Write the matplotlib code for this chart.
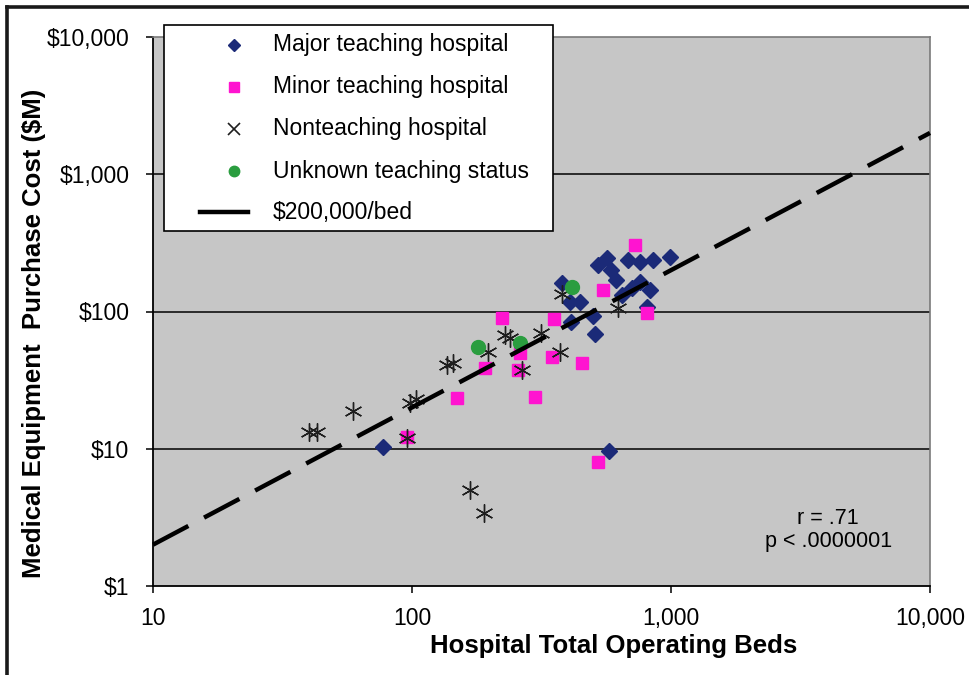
import matplotlib
matplotlib.use('Agg')
import matplotlib.pyplot as plt
from matplotlib.lines import Line2D
from matplotlib.patches import Rectangle
from matplotlib.ticker import FixedLocator, NullLocator

plt.rcParams['font.family'] = ['Liberation Sans', 'DejaVu Sans']

# hospital beds vs. equipment purchase cost ($M), by teaching status
major_beds = [77, 577, 379, 407, 445, 411, 500, 509, 522, 566, 587, 613, 682,
              759, 853, 991, 759, 829, 707, 647, 807]
major_cost = [10.3, 9.6, 161, 117, 117, 84, 93, 68.5, 218, 245, 201, 170, 237,
              230, 237, 250, 164, 144, 148, 132, 108]

minor_beds = [96, 149, 191, 222, 261, 257, 298, 347, 353, 453, 546, 726, 807, 522]
minor_cost = [12.2, 23.4, 38.7, 90, 50, 37.5, 23.8, 46.6, 88, 42, 144, 305, 97.5, 8.0]

non_beds = [40, 43, 59, 98, 104, 96, 136, 144, 196, 228, 239, 266, 315, 373,
            380, 624, 167, 190]
non_cost = [13.2, 13.2, 18.8, 21.5, 23, 12.0, 40.7, 42.2, 50.7, 67.5, 64, 37.5,
            70, 50.7, 134, 106, 5.0, 3.4]

unknown_beds = [180, 261, 415]
unknown_cost = [55, 59, 151]

# reference line: $200,000 per bed, in $M
ref_beds = [10, 10000]
cost_per_bed = 0.2

x_ticks = [10, 100, 1000, 10000]
x_labels = ['10', '100', '1,000', '10,000']
y_ticks = [1, 10, 100, 1000, 10000]
y_labels = ['$1', '$10', '$100', '$1,000', '$10,000']

legend_labels = ['Major teaching hospital', 'Minor teaching hospital',
                 'Nonteaching hospital', 'Unknown teaching status',
                 '$200,000/bed']

NAVY = '#1b2a78'
MAGENTA = '#ff14d0'
GREEN = '#2a9d3f'
STAR = '#1e1e1e'

W, H = 970, 675
fig = plt.figure(figsize=(W / 100, H / 100), dpi=100)


def fx(x):
    return x / W


def fy(y):
    return 1 - y / H


ax = fig.add_axes([fx(153), fy(586), fx(930) - fx(153), fy(37) - fy(586)])
ax.set_facecolor('#c6c6c6')
ax.set_xscale('log')
ax.set_yscale('log')
ax.set_xlim(10, 10000)
ax.set_ylim(1, 10000)

for y in [10, 100, 1000]:
    ax.axhline(y, color='black', lw=1.1, zorder=1)

ax.plot(major_beds, major_cost, ls='none', marker='D', ms=8.5,
        color=NAVY, mec=NAVY, zorder=3)
ax.plot(minor_beds, minor_cost, ls='none', marker='s', ms=8.5,
        color=MAGENTA, mec=MAGENTA, zorder=3)
ax.plot(non_beds, non_cost, ls='none', marker=(6, 2, 0), ms=13,
        mec=STAR, mew=1.0, zorder=4)
ax.plot(unknown_beds, unknown_cost, ls='none', marker='o', ms=10,
        color=GREEN, mec=GREEN, zorder=4)
ax.plot(ref_beds, [b * cost_per_bed for b in ref_beds], color='black',
        lw=3.2, ls=(0, (9, 4)), dash_capstyle='butt', zorder=5, clip_on=False)

ax.xaxis.set_major_locator(FixedLocator(x_ticks))
ax.xaxis.set_minor_locator(NullLocator())
ax.set_xticklabels(x_labels)
ax.yaxis.set_major_locator(FixedLocator(y_ticks))
ax.yaxis.set_minor_locator(NullLocator())
ax.set_yticklabels(y_labels)
ax.tick_params(axis='both', direction='out', length=5, width=1.1,
               color='black', labelsize=16.5)
ax.tick_params(axis='x', pad=10)
ax.tick_params(axis='y', pad=12)

for side in ['left', 'bottom']:
    ax.spines[side].set_color('black')
    ax.spines[side].set_linewidth(1.3)
for side in ['top', 'right']:
    ax.spines[side].set_color('#7a7a7a')
    ax.spines[side].set_linewidth(1.2)

ax.set_xlabel('Hospital Total Operating Beds', fontsize=18.5, fontweight='bold')
ax.xaxis.set_label_coords((614 - 153) / 777, (586 - 634) / 549)
ax.set_ylabel('Medical Equipment  Purchase Cost ($M)', fontsize=18.5,
              fontweight='bold')
ax.yaxis.set_label_coords((46 - 153) / 777, (586 - 333) / 549)

ax.text(0.869, 0.102, 'r = .71\np < .0000001', transform=ax.transAxes,
        ha='center', va='center', multialignment='center', fontsize=15.5,
        linespacing=1.12)

# legend box, drawn by hand so it can sit over the top edge of the plot
fig.add_artist(Rectangle((fx(164), fy(231)), fx(553) - fx(164),
                         fy(25) - fy(231), transform=fig.transFigure,
                         facecolor='white', edgecolor='black', lw=1.2))
rows = [45, 87, 129, 171, 212]
handles = [dict(marker='D', ms=6, color=NAVY, mec=NAVY),
           dict(marker='s', ms=7.5, color=MAGENTA, mec=MAGENTA),
           dict(marker='x', ms=8, color=STAR, mec=STAR, mew=1.2),
           dict(marker='o', ms=7.5, color=GREEN, mec=GREEN)]
for row, style in zip(rows[:4], handles):
    fig.add_artist(Line2D([fx(234)], [fy(row)], ls='none',
                          transform=fig.transFigure, **style))
fig.add_artist(Line2D([fx(200), fx(248)], [fy(rows[4])] * 2, color='black',
                      lw=3.2, transform=fig.transFigure))
for row, label in zip(rows, legend_labels):
    fig.text(fx(273), fy(row), label, fontsize=16.5, va='center', ha='left')

# outer frame edges
fig.add_artist(Line2D([fx(7), fx(7)], [fy(7), 0], color='#1a1a1a', lw=2.6,
                      transform=fig.transFigure))
fig.add_artist(Line2D([fx(7), 1], [fy(7), fy(7)], color='#1a1a1a', lw=2.6,
                      transform=fig.transFigure))

fig.savefig('out.png', dpi=100, facecolor='white')
